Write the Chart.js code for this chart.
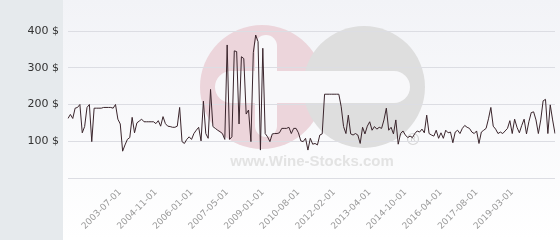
<!DOCTYPE html>
<html><head><meta charset="utf-8">
<script src="https://cdn.jsdelivr.net/npm/chart.js@4"></script>
<style>html,body{margin:0;padding:0;background:#fff}#wrap{width:560px;height:240px}</style>
</head><body><div id="wrap"><canvas id="c" width="560" height="240"></canvas></div>
<script>
const values = [162,173,162,190,192,200,123,140,192,200,
 99,190,190,190,190,192,192,192,192,190,200,
 160,147,73,90,105,110,165,123,150,155,
 160,153,153,153,153,153,148,156,141,167,148,
 141,140,138,138,141,192,99,94,105,112,105,
 121,130,138,101,209,121,108,241,140,135,
 130,126,121,105,362,105,112,346,344,147,
 330,325,174,185,99,341,389,371,76,353,
 121,112,99,120,121,121,123,135,135,135,138,121,
 135,135,123,101,99,108,76,108,92,94,
 90,117,120,228,228,228,228,228,228,228,
 194,140,121,171,120,117,121,117,94,138,
 120,141,153,130,140,133,138,135,158,190,
 130,138,120,158,92,121,128,117,110,114,
 110,121,128,125,133,123,171,121,117,
 114,130,108,123,108,130,123,125,96,
 125,130,121,135,143,138,135,125,121,128,
 94,125,130,135,161,192,141,133,121,
 125,121,128,135,156,121,160,138,123,143,
 160,120,153,178,180,158,121,158,210,214,
 121,199,158,121];
const tickLabels = ['2003-07-01','2004-11-01','2006-01-01','2007-05-01','2009-01-01','2010-08-01',
 '2012-02-01','2013-04-01','2014-10-01','2016-04-01','2017-08-01','2019-03-01'];
const firstTickIndex = 22;
const tickStep = 15;
const yMin = 0, yMax = 400, yStep = 100;
const currency = ' $';

const categories = values.map((_, i) => i);

const bgPlugin = {
  id: 'bg',
  beforeDraw(chart) {
    const {ctx, width, height} = chart;
    const panelW = 63;
    ctx.save();
    ctx.fillStyle = '#e6eaed';
    ctx.fillRect(0, 0, panelW, height);
    const g = ctx.createLinearGradient(0, 0, 0, height);
    g.addColorStop(0, '#f2f3f7');
    g.addColorStop(1, '#ffffff');
    ctx.fillStyle = g;
    ctx.fillRect(panelW, 0, width - panelW, height);
    // watermark
    ctx.fillStyle = '#ecd5db';
    ctx.beginPath(); ctx.arc(262, 87, 62, 0, Math.PI * 2); ctx.fill();
    ctx.fillStyle = '#dedede';
    ctx.beginPath(); ctx.arc(364, 87, 61, 0, Math.PI * 2); ctx.fill();
    ctx.fillStyle = '#f8f8fa';
    const pill = (x, y, w, h) => { const r = Math.min(w, h) / 2; ctx.beginPath(); ctx.roundRect(x, y, w, h, r); ctx.fill(); };
    pill(215, 71, 195, 32);
    pill(255, 35, 22, 102);
    ctx.fillStyle = '#e3e3e3';
    ctx.font = 'bold 15px "Liberation Sans", Arial, sans-serif';
    ctx.textAlign = 'center'; ctx.textBaseline = 'middle';
    ctx.fillText('www.Wine-Stocks.com', 312, 162);
    ctx.strokeStyle = '#d6d6d6'; ctx.lineWidth = 1.2;
    ctx.beginPath(); ctx.arc(413, 139, 5.5, 0, Math.PI * 2); ctx.stroke();
    ctx.fillStyle = '#d6d6d6';
    ctx.font = 'bold 7px "Liberation Sans", Arial, sans-serif';
    ctx.fillText('R', 413, 139.5);
    ctx.restore();
  }
};

new Chart(document.getElementById('c'), {
  type: 'line',
  data: {
    labels: categories,
    datasets: [{
      data: values,
      borderColor: '#3a252c',
      borderWidth: 1,
      pointRadius: 0,
      tension: 0,
      fill: false
    }]
  },
  options: {
    responsive: false,
    animation: false,
    layout: { padding: { top: 31, right: 5, left: 0, bottom: 0 } },
    plugins: { legend: { display: false }, tooltip: { enabled: false } },
    scales: {
      x: {
        type: 'category',
        offset: false,
        grid: { display: false },
        border: { display: false },
        afterFit(s) { s.height = 62; },
        ticks: {
          autoSkip: false,
          minRotation: 45,
          maxRotation: 45,
          padding: 1,
          color: '#9a9a9a',
          font: { family: '"DejaVu Sans"', size: 9 },
          callback(v, i) {
            const k = i - firstTickIndex;
            if (k >= 0 && k % tickStep === 0 && k / tickStep < tickLabels.length) return tickLabels[k / tickStep];
            return null;
          }
        }
      },
      y: {
        min: yMin, max: yMax,
        grid: { color: '#dcdde3', lineWidth: 1, drawTicks: false },
        border: { display: false },
        afterFit(s) { s.width = 68; },
        ticks: {
          stepSize: yStep,
          padding: 9,
          color: '#333333',
          font: { family: '"DejaVu Sans"', size: 11 },
          callback(v) { return v === 0 ? '' : v + currency; }
        }
      }
    }
  },
  plugins: [bgPlugin]
});
</script>
</body></html>
